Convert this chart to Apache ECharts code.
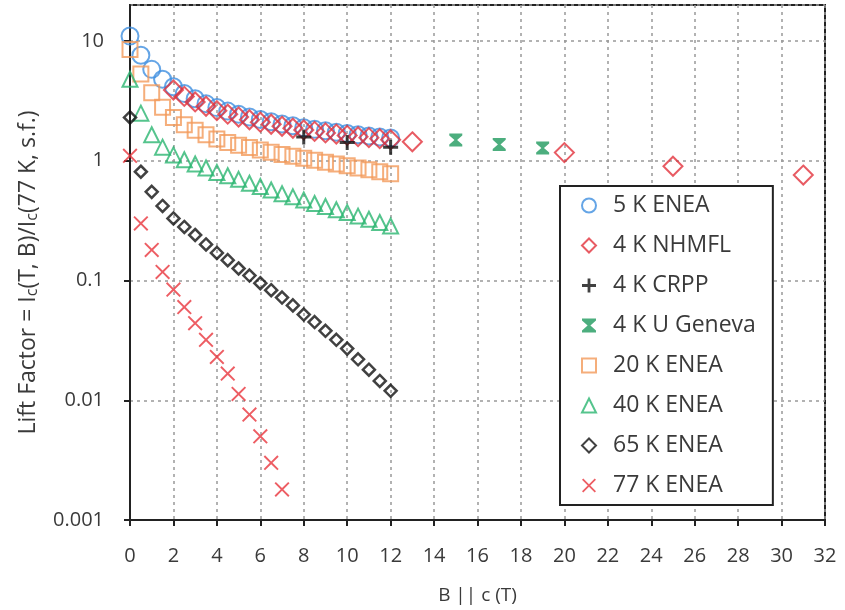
<!DOCTYPE html>
<html>
<head>
<meta charset="utf-8">
<script src="https://cdn.jsdelivr.net/npm/echarts@6/dist/echarts.min.js"></script>
<style>
  html, body { margin: 0; padding: 0; background: #fff; }
  #chart { width: 845px; height: 610px; }
</style>
</head>
<body>
<div id="chart"></div>
<script>
// field values (T)
const bEnea = [0, 0.5, 1, 1.5, 2, 2.5, 3, 3.5, 4, 4.5, 5, 5.5, 6, 6.5, 7, 7.5, 8, 8.5, 9, 9.5, 10, 10.5, 11, 11.5, 12];
const bNhmfl = [2, 2.5, 3, 3.5, 4, 4.5, 5, 5.5, 6, 6.5, 7, 7.5, 8, 8.5, 9, 9.5, 10, 10.5, 11, 11.5, 12, 13, 20, 25, 31];
const bCrpp = [8, 10, 12];
const bGeneva = [15, 17, 19];
const b77 = [0, 0.5, 1, 1.5, 2, 2.5, 3, 3.5, 4, 4.5, 5, 5.5, 6, 6.5, 7];

// lift factors
const lift5K = [11, 7.6, 5.8, 4.8, 4.15, 3.65, 3.3, 3.0, 2.78, 2.6, 2.45, 2.32, 2.21, 2.12, 2.03, 1.96, 1.89, 1.83, 1.78, 1.73, 1.69, 1.65, 1.61, 1.58, 1.55];
const liftNhmfl = [3.9, 3.45, 3.1, 2.85, 2.62, 2.45, 2.32, 2.2, 2.1, 2.02, 1.94, 1.87, 1.81, 1.76, 1.71, 1.67, 1.63, 1.59, 1.56, 1.53, 1.5, 1.44, 1.17, 0.9, 0.76];
const liftCrpp = [1.58, 1.42, 1.3];
const liftGeneva = [1.49, 1.37, 1.28];
const lift20K = [8.5, 5.3, 3.7, 2.8, 2.3, 2.0, 1.8, 1.65, 1.52, 1.42, 1.35, 1.29, 1.23, 1.18, 1.13, 1.09, 1.05, 1.01, 0.97, 0.94, 0.91, 0.87, 0.84, 0.81, 0.78];
const lift40K = [4.8, 2.5, 1.65, 1.3, 1.12, 1.02, 0.94, 0.87, 0.8, 0.75, 0.7, 0.65, 0.61, 0.57, 0.53, 0.5, 0.47, 0.44, 0.415, 0.39, 0.37, 0.345, 0.325, 0.305, 0.285];
const lift65K = [2.3, 0.81, 0.55, 0.42, 0.33, 0.28, 0.24, 0.2, 0.17, 0.148, 0.126, 0.11, 0.095, 0.083, 0.072, 0.062, 0.052, 0.045, 0.038, 0.032, 0.027, 0.022, 0.018, 0.0145, 0.012];
const lift77K = [1.1, 0.3, 0.18, 0.118, 0.084, 0.06, 0.044, 0.032, 0.023, 0.0167, 0.0113, 0.0076, 0.005, 0.003, 0.0018];

const seriesNames = ['5 K ENEA', '4 K NHMFL', '4 K CRPP', '4 K U Geneva', '20 K ENEA', '40 K ENEA', '65 K ENEA', '77 K ENEA'];
const yTicks = [0.001, 0.01, 0.1, 1, 10];

const FONT = '"Open Sans", sans-serif';
const TXT = '#3a3a3a';
const plusPath = 'path://M4,0H6V4H10V6H6V10H4V6H0V4H4Z';
const crossPath = 'path://M0,0.9L0.9,0L5,4.1L9.1,0L10,0.9L5.9,5L10,9.1L9.1,10L5,5.9L0.9,10L0,9.1L4.1,5Z';
const hourglassPath = 'path://M0,0H10V1.5L6,5L10,8.5V10H0V8.5L4,5L0,1.5Z';

const pairs = (xs, ys) => xs.map((x, i) => [x, ys[i]]);

const hollow = (name, xs, ys, symbol, size, color, bw) => ({
    name, type: 'scatter', symbol, symbolSize: size,
    data: pairs(xs, ys),
    itemStyle: { color: 'rgba(255,255,255,0)', borderColor: color, borderWidth: bw || 2 },
    emphasis: { disabled: true }
});
const solid = (name, xs, ys, symbol, size, color) => ({
    name, type: 'scatter', symbol, symbolSize: size,
    data: pairs(xs, ys),
    itemStyle: { color },
    emphasis: { disabled: true }
});

const chart = echarts.init(document.getElementById('chart'), null, { renderer: 'canvas' });

const option = {
    backgroundColor: '#fff',
    animation: false,
    textStyle: { fontFamily: FONT },
    grid: {
        left: 130, right: 20, top: 5, bottom: 90,
        show: true, borderColor: '#222', borderWidth: 2
    },
    legend: {
        orient: 'vertical',
        left: 560, top: 186,
        data: seriesNames,
        itemWidth: 14, itemHeight: 14, itemGap: 17,
        padding: [8, 17, 8, 21],
        borderColor: '#222', borderWidth: 2,
        backgroundColor: '#fff',
        textStyle: { fontFamily: FONT, fontSize: 23, color: TXT, padding: [0, 0, 0, 12] }
    },
    xAxis: {
        type: 'value', min: 0, max: 32, interval: 2,
        name: 'B || c (T)', nameLocation: 'middle', nameGap: 66,
        nameTextStyle: { fontFamily: FONT, fontSize: 19, color: TXT },
        axisLine: { lineStyle: { color: '#222', width: 2 } },
        axisTick: { show: true, length: 6, lineStyle: { color: '#222', width: 2 } },
        axisLabel: { fontFamily: FONT, fontSize: 20, color: TXT, margin: 26 },
        splitLine: { show: true, lineStyle: { color: '#999', type: [3, 4], width: 1.5 } }
    },
    yAxis: {
        type: 'log', logBase: 10, min: 0.001, max: 20,
        name: '{t|Lift Factor = I}{s|c}{t|(T, B)/I}{s|c}{t|(77 K, s.f.)}',
        nameLocation: 'middle', nameGap: 90,
        nameTextStyle: {
            padding: [0, 20, 0, 0],
            rich: {
                t: { fontFamily: FONT, fontSize: 23, color: TXT },
                s: { fontFamily: FONT, fontSize: 16, color: TXT, verticalAlign: 'bottom', padding: [8, 0, 0, 0] }
            }
        },
        axisLine: { show: true, lineStyle: { color: '#222', width: 2 } },
        axisTick: { show: true, length: 6, lineStyle: { color: '#222', width: 2 } },
        axisLabel: {
            fontFamily: FONT, fontSize: 20, color: TXT, margin: 26,
            showMaxLabel: false,
            formatter: v => {
                const t = yTicks.find(k => Math.abs(k - v) / k < 1e-6);
                return t === undefined ? '' : String(t);
            }
        },
        splitLine: { show: true, lineStyle: { color: '#999', type: [3, 4], width: 1.5 } }
    },
    series: [
        hollow('5 K ENEA', bEnea, lift5K, 'circle', 17, '#3f8ee0'),
        hollow('4 K NHMFL', bNhmfl, liftNhmfl, 'diamond', 19, '#e2323c'),
        solid('4 K CRPP', bCrpp, liftCrpp, plusPath, 15, '#111'),
        solid('4 K U Geneva', bGeneva, liftGeneva, hourglassPath, 13, '#1f9a5e'),
        hollow('20 K ENEA', bEnea, lift20K, 'rect', 15, '#f29a5a'),
        hollow('40 K ENEA', bEnea, lift40K, 'triangle', 15, '#2bb570'),
        hollow('65 K ENEA', bEnea, lift65K, 'diamond', 12, '#111', 2.5),
        solid('77 K ENEA', b77, lift77K, crossPath, 15, '#e8353c')
    ]
};

chart.setOption(option);
window.addEventListener('resize', chart.resize);
</script>
</body>
</html>
